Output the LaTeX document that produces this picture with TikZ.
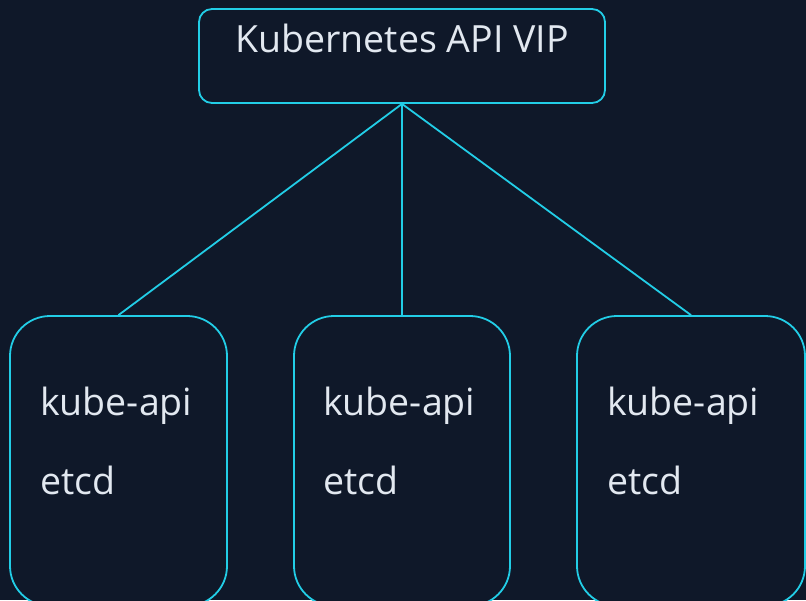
\documentclass[tikz,border=0pt]{standalone}
\usepackage{fontspec}
\setmainfont{Open Sans}
\definecolor{bg}{HTML}{0F1829}
\definecolor{cy}{HTML}{22CDE6}
\definecolor{tx}{HTML}{E2E8F0}
\begin{document}
\begin{tikzpicture}[x=1pt,y=-1pt,
  topbox/.style={draw=cy,line width=1.8pt,rounded corners=13pt,minimum width=406pt,minimum height=94pt,inner sep=0pt,fill=bg},
  hostbox/.style={draw=cy,line width=1.8pt,rounded corners=40pt,inner sep=0pt,fill=bg},
  lbl/.style={text=tx,font=\fontsize{37.5}{44}\selectfont,inner sep=0pt,anchor=base west},
  conn/.style={draw=cy,line width=1.8pt}]
\useasboundingbox (0,0) rectangle (806,600);
\fill[bg] (0,0) rectangle (806,600);
\clip (0,0) rectangle (806,600);
\node[topbox] (vip) at (402,56) {};
\node[text=tx,font=\fontsize{37.5}{44}\selectfont,inner sep=0pt,anchor=base] (viptext) at (402,52) {Kubernetes API VIP};
\node[hostbox,minimum width=217pt,minimum height=290pt] (h1) at (118.5,461) {};
\node[hostbox,minimum width=216pt,minimum height=290pt] (h2) at (402,461) {};
\node[hostbox,minimum width=228pt,minimum height=290pt] (h3) at (691,461) {};
\draw[conn] (vip.south) -- (h1.north);
\draw[conn] (vip.south) -- (h2.north);
\draw[conn] (vip.south) -- (h3.north);
\node[lbl] (k1) at (40,415) {kube-api};
\node[lbl] (e1) at (40,494) {etcd};
\node[lbl] (k2) at (323,415) {kube-api};
\node[lbl] (e2) at (323,494) {etcd};
\node[lbl] (k3) at (607,415) {kube-api};
\node[lbl] (e3) at (607,494) {etcd};
\end{tikzpicture}
\end{document}
